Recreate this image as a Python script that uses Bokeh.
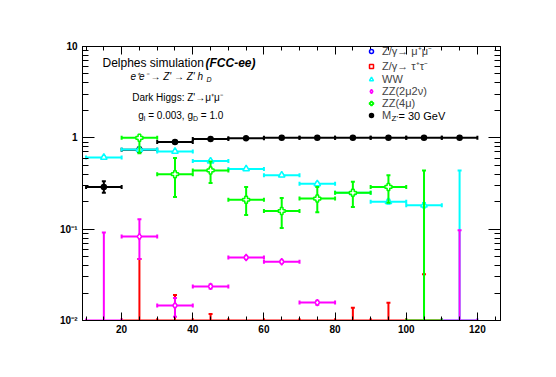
import numpy as np
from bokeh.plotting import figure
from bokeh.models import (Range1d, LinearAxis, LogAxis, FixedTicker, SingleIntervalTicker,
                          Label, Legend, LegendItem)
from bokeh.embed import file_html
from bokeh.resources import INLINE

FONT = "Liberation Sans"
BIN_W = 10.0
Y_MIN, Y_MAX = 0.01, 10.0
X_MIN, X_MAX = 9.0, 126.5

# ---------------- data ----------------
# Signal M_Z' = 30 GeV
sig_x = [15, 25, 35, 45, 55, 65, 75, 85, 95, 105, 115]
sig_y = [0.29, 0.74, 0.90, 0.97, 0.99, 1.0, 1.0, 1.0, 1.0, 1.0, 1.0]
sig_dn = [0.04, 0.04, 0.02, 0.01, 0.006, 0.004, 0.003, 0.003, 0.003, 0.003, 0.003]
sig_up = [0.045, 0.05, 0.02, 0.01, 0.006, 0.0, 0.0, 0.0, 0.0, 0.0, 0.0]

# Z/gamma -> mu mu (no entries passing)
zmm_x, zmm_y, zmm_dn, zmm_up = [], [], [], []

# Z/gamma -> tau tau
ztt_x = [25, 35, 45, 55, 65, 75, 85, 95, 105]
ztt_y = [0.0, 0.0, 0.0, 0.0, 0.0, 0.0, 0.0, 0.0, 0.0]
ztt_dn = [0.0, 0.0, 0.0, 0.0, 0.0, 0.0, 0.0, 0.0, 0.0]
ztt_up = [0.047, 0.019, 0.0118, 0.0, 0.0, 0.0, 0.0138, 0.0156, 0.032]

# WW
ww_x = [15, 25, 35, 45, 55, 65, 75, 85, 95, 105, 115]
ww_y = [0.61, 0.745, 0.71, 0.556, 0.457, 0.39, 0.314, 0.25, 0.20, 0.183, 0.0]
ww_dn = [0.02, 0.015, 0.015, 0.012, 0.01, 0.01, 0.01, 0.01, 0.01, 0.01, 0.0]
ww_up = [0.02, 0.015, 0.015, 0.012, 0.01, 0.01, 0.01, 0.01, 0.01, 0.01, 0.44]

# ZZ(2mu2nu)
zz2_x = [15, 25, 35, 45, 55, 65, 75, 115]
zz2_y = [0.0, 0.083, 0.0146, 0.0236, 0.049, 0.044, 0.0157, 0.0]
zz2_dn = [0.0, 0.036, 0.0036, 0.0012, 0.0015, 0.0015, 0.0008, 0.0]
zz2_up = [0.092, 0.045, 0.003, 0.0012, 0.0015, 0.0015, 0.0008, 0.097]

# ZZ(4mu)
zz4_x = [25, 35, 45, 55, 65, 75, 85, 95, 105]
zz4_y = [1.0, 0.40, 0.44, 0.21, 0.158, 0.216, 0.25, 0.29, 0.0]
zz4_dn = [0.32, 0.175, 0.12, 0.067, 0.055, 0.063, 0.075, 0.095, 0.0]
zz4_up = [0.0, 0.20, 0.11, 0.08, 0.062, 0.074, 0.08, 0.10, 0.44]

legend_labels = ["Z/\u03b3\u2192 \u03bc\u207a\u03bc\u207b", "Z/\u03b3\u2192 \u03c4\u207a\u03c4\u207b",
                 "WW", "ZZ(2\u03bc2\u03bd)", "ZZ(4\u03bc)", "M"]

y_tick_vals = [0.01, 0.1, 1, 10]
y_tick_text = ["10\u207b\u00b2", "10\u207b\u00b9", "1", "10"]

# ---------------- figure ----------------
p = figure(width=556, height=377, output_backend="svg", toolbar_location=None,
           x_range=Range1d(X_MIN, X_MAX), y_range=Range1d(Y_MIN, Y_MAX),
           y_axis_type="log", min_border_left=82, min_border_right=56,
           min_border_top=46, min_border_bottom=57)
p.title = None
p.grid.visible = False
p.background_fill_color = "white"
p.border_fill_color = "white"
p.outline_line_color = "black"
p.outline_line_width = 1

minor_y = [m * 10.0 ** e for e in range(-2, 1) for m in range(2, 10)]


def style_axis(ax, major_len, minor_len, labels=True):
    ax.major_tick_in = major_len
    ax.major_tick_out = 0
    ax.minor_tick_in = minor_len
    ax.minor_tick_out = 0
    ax.axis_line_color = "black"
    ax.major_tick_line_color = "black"
    ax.minor_tick_line_color = "black"
    ax.major_label_text_font = FONT
    ax.major_label_text_font_style = "bold"
    ax.major_label_text_font_size = "10px"
    ax.major_label_text_color = "black" if labels else None


xb = p.xaxis[0]
xb.ticker = SingleIntervalTicker(interval=20, num_minor_ticks=4)
style_axis(xb, 8, 4)
xb.major_label_standoff = 4

yl = p.yaxis[0]
yl.ticker = FixedTicker(ticks=y_tick_vals, minor_ticks=minor_y)
yl.major_label_overrides = {v: t for v, t in zip(y_tick_vals, y_tick_text)}
style_axis(yl, 12, 6)
yl.major_label_standoff = 5

xt = LinearAxis(ticker=SingleIntervalTicker(interval=20, num_minor_ticks=4))
style_axis(xt, 8, 4, labels=False)
p.add_layout(xt, "above")
yr = LogAxis(ticker=FixedTicker(ticks=y_tick_vals, minor_ticks=minor_y))
style_axis(yr, 12, 6, labels=False)
p.add_layout(yr, "right")


def draw(xs, ys, dn, up, color, marker, size, fill):
    xs = np.asarray(xs, float)
    ys = np.asarray(ys, float)
    dn = np.asarray(dn, float)
    up = np.asarray(up, float)
    yc = np.maximum(ys, Y_MIN)
    lo = np.maximum(ys - dn, Y_MIN)
    hi = np.maximum(ys + up, Y_MIN)
    xl = xs - BIN_W / 2
    xr = xs + BIN_W / 2
    if len(xs):
        # horizontal bars (bin width) with end caps
        p.segment(xl, yc, xr, yc, line_color=color, line_width=2)
        p.scatter(np.concatenate([xl, xr]), np.concatenate([yc, yc]), marker="dash",
                  angle=np.pi / 2, size=4, line_color=color, line_width=2)
        # vertical error bars with caps
        m = hi > lo
        p.segment(xs[m], lo[m], xs[m], hi[m], line_color=color, line_width=2)
        mu = m & (hi > yc)
        p.scatter(xs[mu], hi[mu], marker="dash", size=4, line_color=color, line_width=2)
        md = m & (lo < yc) & (lo > Y_MIN)
        p.scatter(xs[md], lo[md], marker="dash", size=4, line_color=color, line_width=2)
    # markers: points below the axis minimum are not drawn (NaN)
    my = np.where(ys > Y_MIN, ys, np.nan)
    mx = xs
    if len(mx) == 0:
        mx, my = np.array([np.nan]), np.array([np.nan])
    r = p.scatter(mx, my, marker=marker, size=size, line_color=color,
                  fill_color=fill, line_width=1.5)
    return r


r_sig = draw(sig_x, sig_y, sig_dn, sig_up, "black", "circle", 5, "black")
r_zmm = draw(zmm_x, zmm_y, zmm_dn, zmm_up, "#0000ff", "circle", 6, "white")
r_ztt = draw(ztt_x, ztt_y, ztt_dn, ztt_up, "#ff0000", "square", 6, "white")
r_ww = draw(ww_x, ww_y, ww_dn, ww_up, "#00ffff", "triangle", 6.5, "white")
r_zz2 = draw(zz2_x, zz2_y, zz2_dn, zz2_up, "#ff00ff", "diamond", 6.5, "white")
r_zz4 = draw(zz4_x, zz4_y, zz4_dn, zz4_up, "#00ff00", "plus", 7, "white")

legend = Legend(items=[LegendItem(label=l, renderers=[r]) for l, r in
                       zip(legend_labels, [r_zmm, r_ztt, r_ww, r_zz2, r_zz4, r_sig])],
                location=(284, 199), padding=0, margin=0, spacing=0,
                glyph_width=10, glyph_height=12, label_height=12, label_standoff=6,
                label_text_font=FONT, label_text_font_size="11px",
                label_text_line_height=1.0,
                border_line_color=None, background_fill_alpha=0)
p.add_layout(legend, "center")


def lab(x, y, text, size, style="normal", align="left", baseline="alphabetic", angle=0.0):
    p.add_layout(Label(x=x, y=y, x_units="screen", y_units="screen", text=text,
                       text_font=FONT, text_font_size=size, text_font_style=style,
                       text_align=align, text_baseline=baseline, angle=angle,
                       text_color="black"))


# legend: rest of the signal label  M_Z' = 30 GeV
lab(309, 202, "Z'", "8px", baseline="middle")
lab(316, 205, "= 30 GeV", "11px", baseline="middle")

# text block
lab(20, 257.3, "Delphes simulation", "12px")
lab(123, 257.3, "(FCC-ee)", "12px", "bold italic")
lab(48, 244.3, "e\u207ae\u207b \u2192 Z' \u2192 Z' h", "10px", "italic")
lab(124, 240.7, "D", "7px", "italic")
lab(49.7, 223.3, "Dark Higgs: Z'\u2192\u03bc\u207a\u03bc\u207b", "10px")
lab(55.7, 205, "g", "10px")
lab(61.3, 202, "l", "7px")
lab(65.7, 205, "= 0.003, g", "10px")
lab(110.5, 202, "D", "7px")
lab(118.3, 205, "= 1.0", "10px")

# axis titles
lab(-63, 274, "N-1 Eff. / 10 GeV", "14px", "bold", align="right", baseline="middle",
    angle=np.pi / 2)
lab(359.7, -44, "p", "14px", "bold italic")
lab(367, -49, "T", "9px", "bold italic")
lab(367.5, -37, "\u03bc", "9px", "bold italic")
lab(418, -44, "[GeV]", "14px", "bold", align="right")

open("out.html", "w").write(file_html(p, INLINE))
